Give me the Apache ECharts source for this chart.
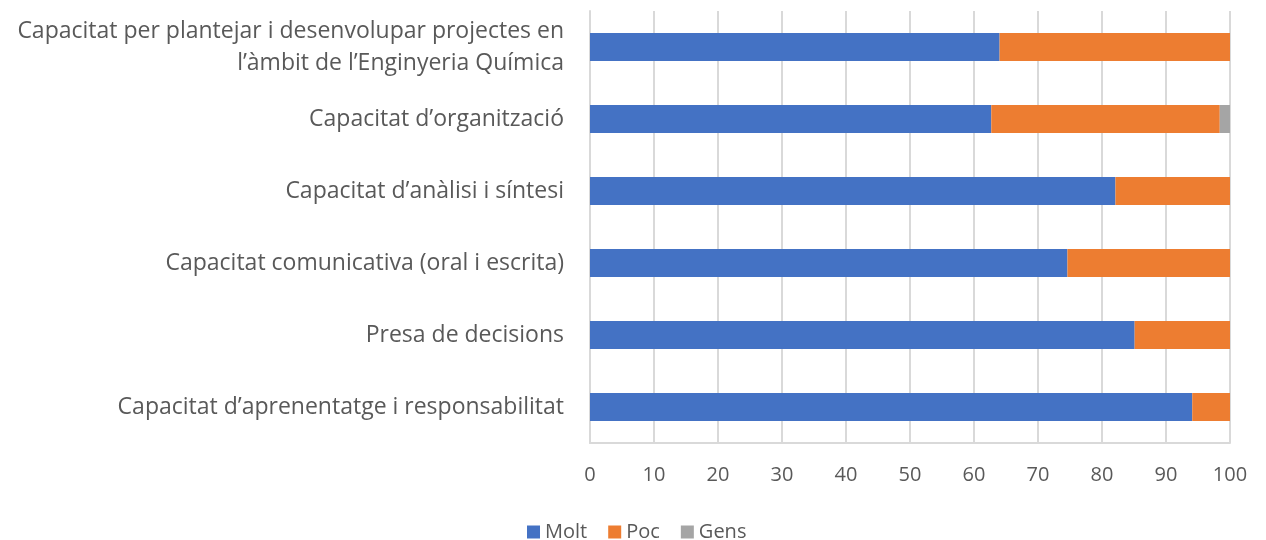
<!DOCTYPE html>
<html>
<head>
<meta charset="utf-8">
<script src="https://cdn.jsdelivr.net/npm/echarts@6/dist/echarts.min.js"></script>
<style>
  html, body { margin: 0; padding: 0; background: #fff; }
  #chart { width: 1266px; height: 540px; }
</style>
</head>
<body>
<div id="chart"></div>
<script>
const categories = [
  "Capacitat per plantejar i desenvolupar projectes en\nl’àmbit de l’Enginyeria Química",
  "Capacitat d’organització",
  "Capacitat d’anàlisi i síntesi",
  "Capacitat comunicativa (oral i escrita)",
  "Presa de decisions",
  "Capacitat d’aprenentatge i responsabilitat"
];
const molt = [64, 62.7, 82.1, 74.6, 85.1, 94.1];
const poc = [36, 35.7, 17.9, 25.4, 14.9, 5.9];
const gens = [0, 1.6, 0, 0, 0, 0];
const xTicks = [0, 10, 20, 30, 40, 50, 60, 70, 80, 90, 100];

const font = "'Open Sans', 'Noto Sans', sans-serif";
const chart = echarts.init(document.getElementById("chart"));

function barSeries(name, data, color) {
  return {
    name: name,
    type: "bar",
    stack: "total",
    data: data,
    barWidth: 28,
    itemStyle: { color: color },
    emphasis: { disabled: true }
  };
}

chart.setOption({
  animation: false,
  textStyle: { fontFamily: font },
  grid: { left: 590, right: 36, top: 11, bottom: 97 },
  legend: {
    top: 522,
    left: 527,
    padding: 0,
    itemWidth: 13,
    itemHeight: 13,
    itemGap: 21,
    icon: "rect",
    textStyle: { fontSize: 20, color: "#595959", fontFamily: font },
    data: ["Molt", "Poc", "Gens"]
  },
  xAxis: {
    type: "value",
    min: xTicks[0],
    max: xTicks[xTicks.length - 1],
    interval: 10,
    axisLine: { show: true, lineStyle: { color: "#d9d9d9", width: 2 } },
    axisTick: { show: false },
    axisLabel: { fontSize: 20, color: "#595959", margin: 22, fontFamily: font },
    splitLine: { show: true, lineStyle: { color: "#d9d9d9", width: 2 } }
  },
  yAxis: {
    type: "category",
    inverse: true,
    data: categories,
    axisLine: { show: true, lineStyle: { color: "#d9d9d9", width: 2 } },
    axisTick: { show: false },
    axisLabel: {
      fontSize: 23,
      color: "#595959",
      margin: 26,
      align: "right",
      lineHeight: 32,
      fontFamily: font
    }
  },
  series: [
    barSeries("Molt", molt, "#4472C4"),
    barSeries("Poc", poc, "#ED7D31"),
    barSeries("Gens", gens, "#A5A5A5")
  ]
});
</script>
</body>
</html>
